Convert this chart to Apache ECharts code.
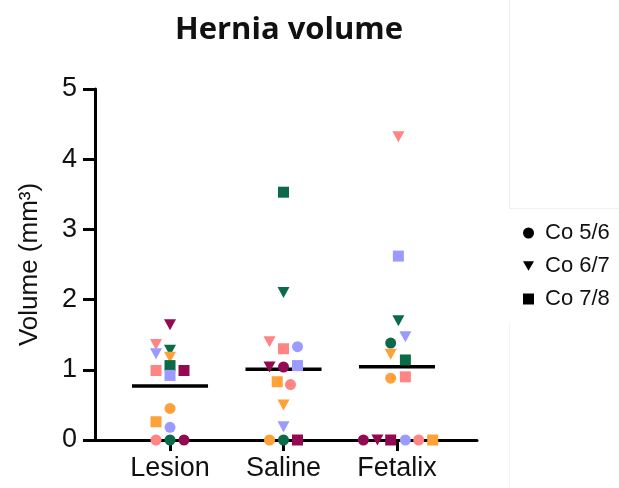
<!DOCTYPE html>
<html>
<head>
<meta charset="utf-8">
<script src="https://cdn.jsdelivr.net/npm/echarts@6/dist/echarts.min.js"></script>
<style>
  html, body { margin: 0; padding: 0; background: #fff; }
  #chart { width: 619px; height: 488px; }
</style>
</head>
<body>
<div id="chart"></div>
<script>
const groups = ["Lesion", "Saline", "Fetalix"];
const cohorts = ["Co 5/6", "Co 6/7", "Co 7/8"];
const yTicks = [0, 1, 2, 3, 4, 5];

// animal order in every row: pink, green, maroon, lavender, orange
// rows: Lesion, Saline, Fetalix
const co56Values = [
  [0, 0, 0, 0.18, 0.45],
  [0.79, 0, 1.04, 1.33, 0],
  [0, 1.38, 0, 0, 0.88]
];
const co67Values = [
  [1.36, 1.28, 1.64, 1.23, 1.18],
  [1.40, 2.10, 1.04, 0.19, 0.50],
  [4.32, 1.70, 0, 1.47, 1.22]
];
const co78Values = [
  [0.99, 1.06, 0.99, 0.92, 0.26],
  [1.30, 3.53, 0, 1.06, 0.83],
  [0.90, 1.14, 0, 2.62, 0]
];

// horizontal scatter offsets, in dot steps
const co56Jitter = [
  [-1, 0, 1, 0, 0],
  [0.5, 0, 0, 1, -1],
  [1.55, -0.45, -2.4, 0.6, -0.45]
];
const co67Jitter = [
  [-1, 0, 0, -1, 0],
  [-1, 0, -1, 0, 0],
  [0.1, 0.1, -1.4, 0.6, -0.45]
];
const co78Jitter = [
  [-1, 0, 1, 0, -1],
  [0, 0, 1, 1, -0.45],
  [0.6, 0.6, -0.45, 0.1, 2.55]
];

const animalColors = ["#ff8585", "#0b6b48", "#940a52", "#9a9aff", "#ffa038"];
const JITTER_STEP = 0.1233;
const MEAN_HALF = 0.335;
const FONT = "Liberation Sans, Arial, sans-serif";
const TRI_DOWN = "path://M0,0 L10,0 L5,8.66 Z";

const chart = echarts.init(document.getElementById("chart"));

function buildPoints(values, jitter) {
  const out = [];
  values.forEach((row, g) => {
    row.forEach((v, a) => {
      out.push({
        value: [g + 1 + jitter[g][a] * JITTER_STEP, v],
        itemStyle: { color: animalColors[a] }
      });
    });
  });
  return out;
}

const means = groups.map((_, g) => {
  const all = [...co56Values[g], ...co67Values[g], ...co78Values[g]];
  return all.reduce((s, v) => s + v, 0) / all.length;
});

function scatter(name, symbol, size, values, jitter) {
  return {
    name: name,
    type: "scatter",
    symbol: symbol,
    symbolSize: size,
    clip: false,
    z: 5,
    itemStyle: { color: "#000", opacity: 1 },
    data: buildPoints(values, jitter)
  };
}

chart.setOption({
  animation: false,
  backgroundColor: "#fff",
  title: {
    text: "Hernia volume",
    left: 284,
    top: 10,
    textAlign: "center",
    textStyle: { fontFamily: "Open Sans", fontWeight: "bold", fontSize: 31, color: "#111" }
  },
  grid: { left: 95, right: 142, top: 89, bottom: 48 },
  legend: {
    data: cohorts,
    orient: "vertical",
    left: 518,
    top: 217,
    itemWidth: 11,
    itemHeight: 11,
    itemGap: 11,
    textStyle: { fontFamily: FONT, fontSize: 22, color: "#111", padding: [0, 0, 0, 6] }
  },
  xAxis: {
    type: "value",
    min: 0.339,
    max: 3.705,
    splitLine: { show: false },
    axisLine: { lineStyle: { color: "#000", width: 3 } },
    axisTick: { show: true, customValues: [1, 2, 3], length: 11, lineStyle: { color: "#000", width: 3 } },
    axisLabel: {
      customValues: [1, 2, 3],
      formatter: (v) => groups[Math.round(v) - 1] || "",
      margin: 15,
      fontFamily: FONT,
      fontSize: 27,
      color: "#111"
    }
  },
  yAxis: {
    type: "value",
    min: yTicks[0],
    max: yTicks[yTicks.length - 1],
    interval: 1,
    name: "Volume (mm³)",
    nameLocation: "middle",
    nameGap: 52,
    nameTextStyle: { fontFamily: FONT, fontSize: 26, color: "#111" },
    splitLine: { show: false },
    axisLine: { show: true, lineStyle: { color: "#000", width: 3 } },
    axisTick: { show: true, length: 12, lineStyle: { color: "#000", width: 3 } },
    axisLabel: { margin: 18, fontFamily: FONT, fontSize: 27, color: "#111" }
  },
  graphic: [
    { type: "line", shape: { x1: 509.5, y1: 0, x2: 509.5, y2: 208 }, style: { stroke: "#efefef", lineWidth: 1 } },
    { type: "line", shape: { x1: 509.5, y1: 208.5, x2: 619, y2: 208.5 }, style: { stroke: "#efefef", lineWidth: 1 } },
    { type: "line", shape: { x1: 509.5, y1: 323, x2: 509.5, y2: 488 }, style: { stroke: "#f3f3f3", lineWidth: 1 } }
  ],
  series: [
    scatter(cohorts[0], "circle", 11, co56Values, co56Jitter),
    scatter(cohorts[1], TRI_DOWN, [12, 11], co67Values, co67Jitter),
    scatter(cohorts[2], "rect", 11, co78Values, co78Jitter),
    {
      name: "mean",
      type: "custom",
      z: 4,
      data: means.map((m, i) => [i + 1, m]),
      renderItem: (params, api) => {
        const x = api.value(0);
        const y = api.value(1);
        const p1 = api.coord([x - MEAN_HALF, y]);
        const p2 = api.coord([x + MEAN_HALF, y]);
        return {
          type: "line",
          shape: { x1: p1[0], y1: p1[1], x2: p2[0], y2: p2[1] },
          style: { stroke: "#000", lineWidth: 3.5 }
        };
      }
    }
  ]
});

window.addEventListener("resize", () => chart.resize());
</script>
</body>
</html>
